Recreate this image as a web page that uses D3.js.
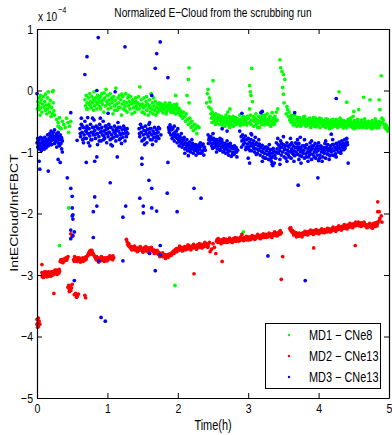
<!DOCTYPE html>
<html><head><meta charset="utf-8">
<script src="https://cdn.jsdelivr.net/npm/d3@7"></script>
<style>body{margin:0;background:#fff}svg{display:block}text{font-family:"Liberation Sans",Arial,Helvetica,sans-serif;fill:#000}</style>
</head><body><svg id="c" width="392" height="435"></svg>
<script>
// Time in hours, values in units of 1e-4
const timeTicks = [0, 1, 2, 3, 4, 5];
const valueTicks = [1, 0, -1, -2, -3, -4, -5];
const seriesNames = ["MD1 \u2212 CNe8", "MD2 \u2212 CNe13", "MD3 \u2212 CNe13"];
const seriesColors = ["#00ff00", "#ff0000", "#0000ff"];

const md1 = [
[0.01,-0.18],[0.02,-0.25],[0.03,-0.12],[0.03,-0.31],[0.04,-0.2],[0.05,-0.08],[0.05,-0.28],[0.06,-0.15],[0.07,-0.35],[0.08,-0.22],[0.09,-0.1],[0.1,-0.27],[0.11,-0.18],[0.12,-0.32],[0.13,-0.24],[0.14,-0.38],[0.15,-0.12],[0.15,-0.3],[0.16,-0.02],[0.17,-0.22],[0.18,-0.35],[0.19,-0.16],[0.2,-0.42],[0.21,-0.28],[0.22,-0.38],[0.23,-0.2],[0.24,-0.33],[0.25,-0.4],[0.005,-0.3],[0.045,-0.4],[0.12,-0.06],[0.18,-0.26],[0.22,-0.02],[0.23,0.0],
[0.28,-0.47],[0.3,-0.52],[0.3,-0.58],[0.32,-0.44],[0.34,-0.62],[0.36,-0.5],[0.38,-0.55],[0.4,-0.6],[0.42,-0.45],[0.44,-0.52],[0.45,-0.68],[0.48,-0.5],[0.32,-0.6],[0.46,-0.58],[0.32,-2.52],[0.45,-1.91],
[0.68,-0.15],[0.69,-0.25],[0.7,-0.08],[0.71,-0.2],[0.72,-0.3],[0.73,-0.12],[0.74,-0.22],[0.75,-0.05],[0.76,-0.18],[0.77,-0.28],[0.78,-0.1],[0.79,-0.2],[0.8,-0.15],[0.81,-0.02],[0.82,-0.25],[0.83,-0.12],[0.84,-0.18],[0.85,-0.3],[0.86,-0.08],[0.87,-0.2],[0.88,-0.14],[0.89,-0.26],[0.9,-0.1],[0.91,-0.18],[0.92,-0.05],[0.93,-0.22],[0.94,-0.15],[0.95,-0.35],[0.96,-0.12],[0.97,-0.25],[0.98,0.02],[0.99,-0.18],[1.0,-0.08],[1.01,-0.3],[1.02,-0.15],[1.03,-0.22],[1.04,-0.05],[1.05,-0.28],[1.06,-0.12],[1.07,-0.2],[1.08,-0.38],[1.09,-0.1],[1.1,-0.25],[1.11,-0.16],[1.12,0.04],[1.13,-0.22],[1.14,-0.32],[1.15,-0.12],[1.16,-0.2],[1.17,-0.08],[1.18,-0.28],[1.19,-0.15],[1.2,-0.4],[1.21,-0.22],[1.22,-0.1],[1.23,-0.3],[1.24,-0.18],[1.25,-0.25],[1.26,-0.05],[1.27,-0.2],[1.28,-0.35],[1.29,-0.12],[1.3,-0.25],[1.31,-0.18],[1.32,-0.3],[1.33,-0.1],[1.34,-0.22],[1.35,-0.38],[1.36,-0.15],[1.37,-0.28],[1.38,-0.2],[1.39,-0.35],[1.4,-0.12],[1.41,-0.25],[1.42,-0.3],
[0.705,-0.3],[0.755,-0.24],[0.805,-0.32],[0.855,-0.22],[0.905,-0.3],[0.955,-0.04],[1.005,-0.22],[1.055,-0.15],[1.105,-0.32],[1.155,-0.28],[1.205,-0.06],[1.255,-0.32],[1.305,-0.08],[1.355,-0.2],[1.405,-0.18],[1.455,-0.22],[1.505,-0.35],[1.555,-0.1],[1.605,-0.25],[1.655,-0.12],[1.705,-0.35],[1.785,-0.3],[1.835,-0.38],[1.885,-0.2],[1.935,-0.36],[1.985,-0.22],[2.035,-0.34],
[1.43,-0.2],[1.44,-0.1],[1.45,-0.3],[1.46,0.06],[1.47,-0.25],[1.48,-0.15],[1.49,-0.35],[1.5,-0.22],[1.51,-0.28],[1.52,-0.12],[1.53,-0.38],[1.54,-0.25],[1.55,-0.18],[1.56,-0.32],[1.57,-0.22],[1.58,-0.4],[1.59,-0.28],[1.6,-0.15],[1.61,-0.35],[1.62,-0.05],[1.63,-0.3],[1.64,-0.2],[1.65,-0.38],[1.66,-0.25],[1.67,-0.32],[1.68,-0.18],[1.69,-0.4],[1.7,-0.28],[1.71,-0.22],[1.72,-0.35],[1.73,-0.3],[1.74,-0.2],
[1.75,-0.25],[1.76,-0.32],[1.77,-0.22],[1.78,-0.28],[1.79,-0.36],[1.8,-0.24],[1.81,-0.3],[1.82,-0.2],[1.83,-0.27],[1.84,-0.34],[1.85,-0.25],[1.86,-0.29],[1.87,-0.22],[1.88,-0.31],[1.89,-0.26],[1.9,-0.35],[1.91,-0.24],[1.92,-0.3],[1.93,-0.27],[1.94,-0.33],[1.95,-0.23],[1.96,-0.29],[1.97,-0.38],[1.98,-0.26],[1.99,-0.32],[2.0,-0.28],[2.01,-0.36],[2.02,-0.3],[2.03,-0.4],[2.04,-0.33],[2.05,-0.42],[2.06,-0.37],[2.07,-0.45],[2.08,-0.35],[1.97,-0.08],
[2.16,0.37],[2.15,0.18],[2.13,-0.08],[2.16,-0.2],
[2.1,-0.42],[2.11,-0.5],[2.12,-0.38],[2.14,-0.47],[2.15,-0.55],[2.17,-0.45],[2.18,-0.52],[2.19,-0.6],[2.2,-0.5],[2.21,-0.58],[2.22,-0.65],[2.24,-0.55],[2.25,-0.62],[2.27,-0.7],[2.28,-0.58],[2.3,-0.6],
[2.41,-0.2],[2.42,-0.05],[2.43,0.02],[2.44,-0.27],[2.45,-0.12],[2.46,-0.18],[2.5,0.16],[2.47,-0.3],
[2.47,-0.38],[2.48,-0.45],[2.49,-0.35],[2.5,-0.42],[2.51,-0.5],[2.52,-0.4],[2.53,-0.46],[2.54,-0.38],[2.55,-0.52],[2.56,-0.44],[2.57,-0.48],[2.58,-0.4],[2.59,-0.55],[2.6,-0.45],[2.61,-0.5],[2.62,-0.42],[2.63,-0.56],[2.64,-0.47],[2.65,-0.52],[2.66,-0.44],[2.67,-0.58],[2.68,-0.48],[2.69,-0.53],[2.7,-0.45],[2.71,-0.5],[2.72,-0.56],[2.73,-0.42],[2.74,-0.52],[2.75,-0.47],[2.76,-0.55],[2.77,-0.45],[2.78,-0.5],[2.79,-0.58],[2.8,-0.48],[2.81,-0.52],[2.82,-0.44],[2.83,-0.55],[2.84,-0.5],[2.85,-0.46],[2.86,-0.53],[2.87,-0.48],[2.88,-0.4],[2.89,-0.52],[2.9,-0.46],[2.91,-0.55],[2.92,-0.49],[2.93,-0.42],[2.94,-0.5],[2.95,-0.45],[2.96,-0.52],[2.97,-0.48],[2.98,-0.56],[2.74,-0.3],[2.71,-0.35],
[2.485,-0.52],[2.535,-0.55],[2.585,-0.48],[2.635,-0.5],[2.685,-0.4],[2.735,-0.6],[2.785,-0.42],[2.835,-0.48],[2.885,-0.57],[2.935,-0.55],[2.985,-0.42],[3.035,-0.5],[3.085,-0.46],[3.135,-0.6],[3.185,-0.5],[3.235,-0.4],[3.285,-0.51],[3.335,-0.55],[3.385,-0.47],
[3.05,0.36],[3.02,0.08],[3.03,-0.02],[3.04,-0.08],[3.06,-0.18],[3.02,-0.3],
[3.0,-0.45],[3.01,-0.52],[3.03,-0.4],[3.04,-0.55],[3.05,-0.48],[3.07,-0.42],[3.08,-0.58],[3.09,-0.5],[3.1,-0.45],[3.11,-0.38],[3.12,-0.55],[3.13,-0.48],[3.14,-0.52],[3.15,-0.42],[3.16,-0.6],[3.17,-0.5],[3.18,-0.45],[3.19,-0.55],[3.2,-0.4],[3.21,-0.5],[3.22,-0.46],[3.23,-0.56],[3.24,-0.43],[3.25,-0.52],[3.26,-0.48],[3.27,-0.38],[3.28,-0.55],[3.29,-0.46],[3.3,-0.5],[3.31,-0.42],[3.32,-0.58],[3.33,-0.48],[3.34,-0.36],[3.35,-0.52],[3.36,-0.45],[3.37,-0.55],[3.38,-0.42],[3.39,-0.5],[3.4,-0.35],[3.41,-0.48],[3.42,-0.3],
[3.45,0.5],[3.46,0.37],[3.48,0.31],[3.5,0.26],[3.52,0.18],[3.49,0.05],[3.5,-0.06],[3.51,-0.2],[3.55,-0.26],[3.56,-0.31],[3.54,-0.38],[3.58,-0.35],[3.57,-0.42],[3.59,-0.48],
[3.6,-0.45],[3.61,-0.52],[3.62,-0.42],[3.63,-0.5],[3.64,-0.56],[3.65,-0.47],[3.66,-0.4],[3.67,-0.53],[3.68,-0.48],[3.69,-0.58],[3.7,-0.45],[3.71,-0.5],[3.72,-0.55],[3.73,-0.44],[3.74,-0.52],[3.75,-0.48],[3.76,-0.56],[3.77,-0.5],[3.78,-0.46],[3.79,-0.54],[3.8,-0.42],[3.81,-0.5],[3.82,-0.58],[3.83,-0.47],[3.84,-0.53],[3.85,-0.49],[3.86,-0.56],[3.87,-0.45],[3.88,-0.52],[3.89,-0.6],[3.9,-0.5],[3.91,-0.55],[3.92,-0.47],[3.93,-0.53],[3.94,-0.58],[3.95,-0.5],[3.96,-0.45],[3.97,-0.55],[3.98,-0.51],[3.99,-0.57],[4.0,-0.48],[4.01,-0.53],[4.02,-0.6],[4.03,-0.5],[4.04,-0.46],[4.05,-0.55],[4.06,-0.52],[4.07,-0.58],[4.08,-0.49],[4.09,-0.54],[4.1,-0.6],[4.11,-0.5],[4.12,-0.56],[4.13,-0.47],[4.14,-0.53],[4.15,-0.58],[4.16,-0.51],[4.17,-0.55],[4.18,-0.48],[4.19,-0.6],[4.2,-0.52],[4.21,-0.56],[4.22,-0.5],[4.23,-0.58],[4.24,-0.53],[4.25,-0.47],[4.26,-0.55],[4.27,-0.6],[4.28,-0.51],[4.29,-0.56],[4.3,-0.5],[4.31,-0.58],[4.32,-0.53],[4.33,-0.48],[4.34,-0.56],[4.35,-0.61],[4.36,-0.52],[4.37,-0.57],[4.38,-0.5],[4.39,-0.55],[4.4,-0.6],[4.41,-0.52],[4.42,-0.47],[4.43,-0.56],[4.44,-0.53],[4.45,-0.58],[4.46,-0.5],[4.47,-0.55],[4.48,-0.6],[4.49,-0.52],[4.5,-0.57],[4.51,-0.49],[4.52,-0.55],[4.53,-0.61],[4.54,-0.53],[4.55,-0.58],[4.56,-0.5],[4.57,-0.55],[4.58,-0.6],[4.59,-0.52],[4.6,-0.57],[4.61,-0.48],[4.62,-0.55],[4.63,-0.6],[4.64,-0.52],[4.65,-0.57],[4.66,-0.5],[4.67,-0.55],[4.68,-0.61],[4.69,-0.53],[4.7,-0.58],[4.71,-0.5],[4.72,-0.55],[4.73,-0.6],[4.74,-0.52],[4.75,-0.57],[4.76,-0.49],[4.77,-0.55],[4.78,-0.6],[4.79,-0.53],[4.8,-0.58],[4.81,-0.5],[4.82,-0.56],[4.83,-0.61],[4.84,-0.53],[4.85,-0.57],[4.86,-0.5],[4.87,-0.56],[4.88,-0.52],[4.9,-0.45],[4.91,-0.52],[4.92,-0.48],[4.93,-0.56],[4.94,-0.6],[4.95,-0.55],[4.96,-0.63],[4.97,-0.58],[4.98,-0.66],[4.99,-0.62],
[3.615,-0.4],[3.655,-0.55],[3.695,-0.44],[3.745,-0.58],[3.785,-0.43],[3.835,-0.55],[3.875,-0.5],[3.925,-0.44],[3.965,-0.59],[4.015,-0.45],[4.055,-0.5],[4.105,-0.46],[4.155,-0.62],[4.205,-0.47],[4.255,-0.52],[4.305,-0.45],[4.355,-0.49],[4.405,-0.55],[4.455,-0.45],[4.505,-0.62],[4.555,-0.47],[4.605,-0.52],[4.655,-0.46],[4.705,-0.53],[4.755,-0.62],[4.805,-0.46],[4.855,-0.6],
[4.29,-0.02],[4.4,-0.19],[4.64,-0.11],[4.73,-0.15],[4.57,-0.31],[4.5,-0.34],[4.49,-0.42],[4.89,0.24],[4.86,-0.15],[4.87,-0.31],[1.96,-3.17],[2.93,-2.3]
];

const md2 = [
[0.0,-3.72],[0.01,-3.78],[0.02,-3.83],[0.03,-3.75],[0.01,-3.85],[0.04,-3.8],[0.0,-3.8],[0.02,-3.7],[0.07,-2.83],[0.24,-3.3],
[0.07,-2.96],[0.08,-3.0],[0.09,-2.97],[0.1,-3.02],[0.11,-2.98],[0.12,-3.01],[0.13,-2.95],[0.14,-3.03],[0.15,-2.99],[0.16,-3.02],[0.17,-2.97],[0.18,-3.0],[0.19,-2.96],[0.2,-3.01],[0.21,-2.98],[0.22,-2.95],[0.23,-2.99],[0.24,-2.94],[0.25,-2.97],[0.26,-2.93],[0.27,-2.96],[0.28,-2.92],[0.29,-2.95],[0.3,-2.93],[0.31,-2.97],[0.32,-2.94],[0.09,-3.04],[0.14,-2.98],[0.2,-2.95],[0.26,-2.98],
[0.075,-3.03],[0.105,-2.95],[0.135,-3.0],[0.165,-2.95],[0.195,-3.02],[0.225,-3.0],[0.255,-2.92],[0.285,-2.99],[0.315,-2.91],
[0.33,-2.78],[0.34,-2.75],[0.35,-2.79],[0.36,-2.76],[0.37,-2.8],[0.38,-2.74],[0.39,-2.77],[0.4,-2.75],[0.41,-2.72],[0.42,-2.76],[0.43,-2.73],[0.44,-2.7],
[0.44,-3.2],[0.45,-3.17],[0.46,-3.23],[0.47,-3.19],[0.48,-3.25],[0.49,-3.21],[0.5,-3.15],[0.46,-3.27],[0.48,-2.33],[0.5,-2.37],
[0.53,-3.32],[0.55,-3.3],[0.57,-3.35],[0.59,-3.31],[0.56,-3.36],[0.68,-3.33],[0.69,-3.37],
[0.52,-2.75],[0.53,-2.78],[0.54,-2.73],[0.55,-2.77],[0.56,-2.74],[0.57,-2.78],[0.58,-2.75],[0.59,-2.72],[0.6,-2.76],[0.61,-2.73],[0.62,-2.77],[0.63,-2.74],[0.64,-2.76],[0.65,-2.72],[0.66,-2.75],[0.67,-2.73],[0.68,-2.76],[0.69,-2.71],[0.7,-2.74],[0.71,-2.7],
[0.72,-2.68],[0.73,-2.65],[0.74,-2.63],[0.75,-2.61],[0.76,-2.6],[0.77,-2.62],[0.78,-2.6],[0.79,-2.64],[0.8,-2.66],[0.81,-2.68],[0.82,-2.7],[0.74,-2.67],[0.77,-2.66],
[0.83,-2.72],[0.84,-2.75],[0.85,-2.73],[0.86,-2.76],[0.87,-2.72],[0.88,-2.75],[0.89,-2.73],[0.9,-2.77],[0.91,-2.74],[0.92,-2.72],[0.93,-2.76],[0.94,-2.73],[0.95,-2.75],[0.96,-2.72],[0.97,-2.76],[0.98,-2.74],[0.99,-2.72],[1.0,-2.75],[1.01,-2.73],[1.02,-2.71],[1.03,-2.74],[1.04,-2.72],[1.05,-2.7],[1.06,-2.73],[1.07,-2.71],[1.08,-2.69],[1.09,-2.72],
[0.535,-2.7],[0.575,-2.72],[0.615,-2.79],[0.655,-2.78],[0.845,-2.7],[0.875,-2.79],[0.915,-2.7],[0.955,-2.78],[0.995,-2.77],[1.035,-2.69],[1.075,-2.75],
[1.27,-2.42],[1.28,-2.46],[1.29,-2.5],[1.3,-2.52],[1.31,-2.54],[1.32,-2.53],[1.33,-2.56],[1.34,-2.54],[1.35,-2.57],[1.36,-2.55],[1.37,-2.58],[1.38,-2.56],[1.39,-2.59],[1.4,-2.57],[1.41,-2.6],[1.42,-2.56],[1.43,-2.59],[1.44,-2.57],[1.45,-2.6],[1.46,-2.58],[1.47,-2.55],[1.48,-2.59],[1.49,-2.57],[1.5,-2.6],[1.51,-2.58],[1.52,-2.56],[1.53,-2.59],[1.54,-2.57],[1.55,-2.61],[1.56,-2.58],[1.57,-2.56],[1.58,-2.6],[1.59,-2.57],[1.6,-2.59],[1.61,-2.56],[1.62,-2.6],[1.63,-2.58],[1.64,-2.61],[1.65,-2.59],[1.66,-2.62],[1.67,-2.6],[1.68,-2.63],[1.69,-2.61],[1.7,-2.64],[1.71,-2.62],[1.72,-2.66],[1.73,-2.63],[1.74,-2.67],[1.75,-2.65],[1.76,-2.68],[1.77,-2.66],[1.78,-2.7],[1.79,-2.67],[1.8,-2.69],[1.81,-2.7],[1.82,-2.67],[1.83,-2.71],[1.84,-2.68],[1.85,-2.7],[1.86,-2.67],[1.87,-2.69],[1.88,-2.66],[1.89,-2.68],[1.9,-2.65],[1.91,-2.67],[1.92,-2.63],[1.93,-2.65],[1.94,-2.61],[1.95,-2.63],[1.96,-2.59],[1.97,-2.61],[1.98,-2.57],[1.99,-2.6],[2.0,-2.57],[2.01,-2.6],[2.02,-2.56],[2.03,-2.59],[2.04,-2.55],[2.05,-2.58],[2.06,-2.56],[2.07,-2.59],[2.08,-2.55],[2.09,-2.58],[2.1,-2.54],[2.11,-2.57],[2.12,-2.55],[2.13,-2.58],[2.14,-2.54],[2.15,-2.57],[2.16,-2.53],[2.17,-2.56],[2.18,-2.54],[2.19,-2.57],[2.2,-2.53],[2.21,-2.56],[2.22,-2.52],[2.23,-2.55],[2.24,-2.53],[2.25,-2.56],[2.26,-2.52],[2.27,-2.55],[2.28,-2.51],[2.29,-2.54],[2.3,-2.52],[2.31,-2.55],[2.32,-2.51],[2.33,-2.54],[2.34,-2.5],[2.35,-2.53],[2.36,-2.51],[2.37,-2.54],[2.38,-2.5],[2.39,-2.53],[2.4,-2.49],[2.41,-2.52],[2.42,-2.5],[2.43,-2.53],[2.44,-2.49],[2.45,-2.47],
[1.305,-2.49],[1.345,-2.59],[1.385,-2.53],[1.425,-2.62],[1.465,-2.54],[1.505,-2.63],[1.545,-2.54],[1.585,-2.63],[1.625,-2.55],[1.665,-2.65],[1.705,-2.6],[1.745,-2.7],[1.785,-2.64],[1.825,-2.73],[1.865,-2.71],[1.905,-2.68],[1.945,-2.65],[1.985,-2.62],[2.025,-2.53],[2.065,-2.61],[2.105,-2.59],[2.145,-2.51],[2.185,-2.59],[2.225,-2.5],[2.265,-2.58],[2.305,-2.49],[2.345,-2.56],[2.385,-2.47],[2.425,-2.55],
[2.46,-2.62],[2.5,-2.49],[2.54,-2.65],[2.52,-2.55],[2.63,-2.78],[2.48,-2.58],[2.23,-2.98],
[2.55,-2.45],[2.56,-2.42],[2.57,-2.47],[2.58,-2.43],[2.59,-2.46],[2.6,-2.44],[2.61,-2.47],[2.62,-2.43],[2.63,-2.46],[2.64,-2.44],[2.65,-2.47],[2.66,-2.43],[2.67,-2.46],[2.68,-2.44],[2.69,-2.42],[2.7,-2.45],[2.71,-2.43],[2.72,-2.46],[2.73,-2.42],[2.74,-2.45],[2.75,-2.43],[2.76,-2.46],[2.77,-2.42],[2.78,-2.44],[2.79,-2.41],[2.8,-2.44],[2.81,-2.42],[2.82,-2.45],[2.83,-2.41],[2.84,-2.43],[2.85,-2.4],[2.86,-2.43],[2.87,-2.41],[2.88,-2.44],[2.89,-2.4],[2.9,-2.42],[2.92,-2.43],[2.93,-2.4],[2.94,-2.42],[2.95,-2.39],[2.96,-2.42],[2.97,-2.4],[2.98,-2.43],[2.99,-2.39],[3.0,-2.41],[3.01,-2.38],[3.02,-2.41],[3.03,-2.39],[3.04,-2.42],[3.05,-2.38],[3.06,-2.4],[3.07,-2.37],[3.08,-2.4],[3.09,-2.38],[3.1,-2.41],[3.11,-2.37],[3.12,-2.39],[3.13,-2.36],[3.14,-2.39],[3.15,-2.37],[3.16,-2.4],[3.17,-2.36],[3.18,-2.38],[3.19,-2.35],[3.2,-2.38],[3.21,-2.36],[3.22,-2.39],[3.23,-2.35],[3.24,-2.37],[3.25,-2.34],[3.26,-2.37],[3.27,-2.35],[3.28,-2.38],[3.29,-2.34],[3.3,-2.36],[3.31,-2.33],[3.32,-2.36],[3.33,-2.34],[3.34,-2.37],[3.35,-2.33],[3.36,-2.35],[3.37,-2.32],[3.38,-2.35],[3.39,-2.33],[3.4,-2.36],[3.41,-2.32],[3.42,-2.34],[3.43,-2.31],[3.44,-2.34],[3.45,-2.3],[3.46,-2.33],[3.47,-2.31],
[2.575,-2.41],[2.615,-2.49],[2.655,-2.41],[2.695,-2.47],[2.735,-2.4],[2.775,-2.47],[2.815,-2.39],[2.855,-2.45],[2.895,-2.38],[2.935,-2.44],[2.975,-2.37],[3.015,-2.43],[3.055,-2.36],[3.095,-2.42],[3.135,-2.34],[3.175,-2.41],[3.215,-2.33],[3.255,-2.39],[3.295,-2.32],[3.335,-2.39],[3.375,-2.3],[3.415,-2.36],[3.455,-2.28],
[2.91,-2.34],[3.49,-2.7],[3.47,-3.07],[3.93,-2.56],[4.52,-2.52],
[3.59,-2.24],[3.6,-2.27],[3.61,-2.26],[3.62,-2.3],[3.63,-2.28],[3.64,-2.32],[3.65,-2.3],[3.66,-2.33],[3.67,-2.31],[3.68,-2.35],[3.69,-2.32],[3.7,-2.36],[3.71,-2.33],[3.72,-2.37],[3.73,-2.34],[3.74,-2.36],[3.75,-2.33],[3.76,-2.35],[3.77,-2.32],[3.78,-2.34],[3.79,-2.31],[3.8,-2.34],[3.81,-2.31],[3.82,-2.33],[3.83,-2.3],[3.84,-2.33],[3.85,-2.3],[3.86,-2.32],[3.87,-2.29],[3.88,-2.32],[3.89,-2.3],[3.9,-2.32],[3.91,-2.29],[3.92,-2.31],[3.93,-2.28],[3.94,-2.31],[3.95,-2.29],[3.96,-2.32],[3.97,-2.28],[3.98,-2.3],[3.99,-2.28],[4.0,-2.31],[4.01,-2.28],[4.02,-2.3],[4.03,-2.27],[4.04,-2.3],[4.05,-2.28],[4.06,-2.31],[4.07,-2.27],[4.08,-2.29],[4.09,-2.26],[4.1,-2.29],[4.11,-2.27],[4.12,-2.3],[4.13,-2.26],[4.14,-2.28],[4.15,-2.25],[4.16,-2.28],[4.17,-2.26],[4.18,-2.29],[4.19,-2.25],[4.2,-2.27],[4.21,-2.24],[4.22,-2.27],[4.23,-2.25],[4.24,-2.27],[4.25,-2.23],[4.26,-2.26],[4.27,-2.24],[4.28,-2.26],[4.29,-2.22],[4.3,-2.25],[4.31,-2.23],[4.32,-2.25],[4.33,-2.21],[4.34,-2.24],[4.35,-2.22],[4.36,-2.24],[4.37,-2.2],[4.38,-2.23],[4.39,-2.21],[4.4,-2.23],[4.41,-2.19],[4.42,-2.22],[4.43,-2.2],[4.44,-2.22],[4.45,-2.18],[4.46,-2.21],[4.47,-2.19],[4.48,-2.21],[4.49,-2.17],[4.5,-2.2],[4.51,-2.18],[4.52,-2.2],[4.53,-2.16],[4.54,-2.19],
[3.605,-2.23],[3.645,-2.35],[3.685,-2.38],[3.725,-2.32],[3.765,-2.38],[3.805,-2.29],[3.845,-2.35],[3.885,-2.27],[3.925,-2.34],[3.965,-2.26],[4.005,-2.33],[4.045,-2.25],[4.085,-2.31],[4.125,-2.24],[4.165,-2.3],[4.205,-2.22],[4.245,-2.29],[4.285,-2.2],[4.325,-2.27],[4.365,-2.18],[4.405,-2.25],[4.445,-2.16],[4.485,-2.23],[4.525,-2.14],
[4.55,-2.16],[4.56,-2.19],[4.57,-2.17],[4.58,-2.2],[4.59,-2.16],[4.6,-2.18],[4.61,-2.15],[4.62,-2.18],[4.63,-2.16],[4.64,-2.19],[4.65,-2.17],[4.66,-2.2],[4.67,-2.18],[4.68,-2.21],[4.69,-2.19],[4.7,-2.22],[4.71,-2.2],[4.72,-2.18],[4.73,-2.21],[4.74,-2.19],[4.75,-2.22],[4.76,-2.2],[4.77,-2.17],[4.78,-2.2],[4.79,-2.18],[4.8,-2.15],[4.81,-2.19],[4.82,-2.17],[4.83,-2.2],[4.84,-2.16],
[4.565,-2.14],[4.605,-2.21],[4.645,-2.14],[4.685,-2.23],[4.725,-2.16],[4.765,-2.24],[4.805,-2.21],[4.835,-2.14],
[4.84,-1.81],[4.84,-1.97],[4.86,-1.97],[4.89,-2.04],[4.86,-2.12],[4.9,-2.14],[4.87,-2.08]
];

const md3 = [
[0.0,-0.85],[0.01,-0.92],[0.01,-0.78],[0.02,-0.88],[0.03,-0.95],[0.03,-0.8],[0.04,-0.86],[0.05,-0.9],[0.05,-0.76],[0.06,-0.98],[0.07,-0.84],[0.07,-0.92],[0.08,-0.8],[0.09,-0.88],[0.09,-0.95],[0.1,-0.83],[0.11,-0.9],[0.11,-0.76],[0.12,-0.86],[0.13,-0.93],[0.13,-0.8],[0.14,-0.88],[0.15,-0.84],[0.15,-0.72],[0.16,-0.9],[0.17,-0.78],[0.18,-0.7],[0.18,-0.85],[0.19,-0.75],[0.2,-0.82],[0.2,-0.66],[0.21,-0.88],[0.22,-0.72],[0.23,-0.8],[0.23,-0.68],[0.24,-0.76],[0.25,-0.86],[0.25,-0.64],[0.26,-0.74],[0.27,-0.82],[0.28,-0.7],[0.28,-0.92],[0.29,-0.78],[0.3,-0.85],[0.3,-0.68],[0.31,-0.75],[0.32,-0.9],[0.32,-0.8],[0.33,-0.72],[0.34,-0.86],[0.35,-0.78],[0.35,-0.95],[0.36,-0.82],
[0.015,-0.82],[0.045,-0.93],[0.075,-0.78],[0.105,-0.95],[0.135,-0.84],[0.165,-0.8],[0.195,-0.88],[0.225,-0.78],[0.255,-0.8],[0.285,-0.74],[0.315,-0.88],[0.345,-0.76],
[0.0,-0.05],[0.04,-1.28],[0.16,-1.31],[0.03,-1.15],[0.3,-1.12],[0.33,-1.17],[0.36,-1.0],[0.43,-1.42],[0.48,-1.59],[0.5,-1.72],[0.5,-1.91],[0.51,-2.02],[0.51,-2.09],[0.5,-2.04],[0.48,-0.36],[0.57,-0.81],[0.48,-2.27],[0.53,-2.3],[0.51,-2.36],[0.48,-2.41],[0.53,-3.09],[0.8,-2.39],[0.88,-2.77],[0.91,-3.69],[0.97,-3.75],
[0.61,-0.62],[0.62,-0.75],[0.63,-0.55],[0.64,-0.68],[0.65,-0.8],[0.66,-0.6],[0.67,-0.72],[0.68,-0.5],[0.69,-0.66],[0.7,-0.78],[0.71,-0.58],[0.72,-0.7],[0.73,-0.85],[0.74,-0.62],[0.75,-0.74],[0.76,-0.55],[0.77,-0.68],[0.78,-0.8],[0.79,-0.6],[0.8,-0.72],[0.81,-0.48],[0.82,-0.65],[0.83,-0.78],[0.84,-0.58],[0.85,-0.7],[0.86,-0.88],[0.87,-0.62],[0.88,-0.75],[0.89,-0.55],[0.9,-0.68],[0.91,-0.82],[0.92,-0.6],[0.93,-0.72],[0.94,-0.5],[0.95,-0.66],[0.96,-0.78],[0.97,-0.58],[0.98,-0.7],[0.99,-0.85],[1.0,-0.62],[1.01,-0.75],[1.02,-0.55],[1.03,-0.68],[1.04,-0.8],[1.05,-0.6],[1.06,-0.72],[1.07,-0.9],[1.08,-0.64],[1.09,-0.76],[1.1,-0.58],[1.11,-0.7],[1.12,-0.82],[1.13,-0.62],[1.14,-0.74],[1.15,-0.52],[1.16,-0.66],[1.17,-0.8],[1.18,-0.6],[1.19,-0.72],[1.2,-0.86],[1.21,-0.64],[1.22,-0.76],[1.23,-0.58],[1.24,-0.7],[1.25,-0.82],[1.26,-0.66],[1.27,-0.75],[1.28,-0.62],[1.29,-0.7],[0.66,-0.85],[0.75,-0.9],[0.9,-0.45],[1.05,-0.88],[0.79,-0.45],[0.7,-0.66],[0.8,-0.6],[0.86,-0.7],[0.95,-0.74],[1.02,-0.68],[1.12,-0.66],[1.18,-0.7],[0.88,-0.62],[0.98,-0.58],
[0.615,-0.7],[0.645,-0.58],[0.675,-0.78],[0.705,-0.62],[0.735,-0.7],[0.765,-0.8],[0.795,-0.68],[0.825,-0.72],[0.855,-0.6],[0.885,-0.82],[0.915,-0.66],[0.945,-0.8],[0.975,-0.64],[1.005,-0.7],[1.035,-0.6],[1.065,-0.78],[1.095,-0.68],[1.125,-0.74],[1.155,-0.6],[1.185,-0.78],[1.215,-0.7],[1.245,-0.62],[1.275,-0.68],
[0.87,0.86],[0.71,0.55],[0.68,0.26],[0.85,0.0],[1.11,-0.02],[1.25,0.71],[1.01,-0.37],[0.72,-0.44],[0.63,-0.45],[0.7,-1.17],[0.85,-1.08],[0.82,-1.15],[0.8,-1.97],[0.82,-1.73],[0.85,-1.88],[1.04,-1.5],[1.14,-1.08],[1.22,-2.06],[1.26,-1.88],[1.22,-2.77],
[1.45,-0.62],[1.46,-0.75],[1.47,-0.55],[1.48,-0.68],[1.49,-0.82],[1.5,-0.6],[1.51,-0.72],[1.52,-0.65],[1.53,-0.78],[1.54,-0.58],[1.55,-0.7],[1.56,-0.85],[1.57,-0.63],[1.58,-0.75],[1.59,-0.55],[1.6,-0.68],[1.61,-0.8],[1.62,-0.62],[1.63,-0.72],[1.64,-0.88],[1.65,-0.66],[1.66,-0.76],[1.67,-0.6],[1.68,-0.7],[1.69,-0.82],[1.7,-0.64],[1.71,-0.74],[1.72,-0.68],[1.73,-0.78],[1.74,-0.62],[1.76,-0.72],[1.53,-0.88],[1.6,-0.52],
[1.455,-0.7],[1.485,-0.6],[1.515,-0.8],[1.545,-0.66],[1.575,-0.72],[1.605,-0.62],[1.635,-0.8],[1.665,-0.7],[1.695,-0.76],[1.725,-0.6],
[1.75,0.79],[1.7,0.6],[1.68,0.36],[1.86,0.21],[1.63,-0.08],[1.49,-1.1],[1.49,-1.2],[1.46,-1.75],[1.51,-1.88],[1.51,-1.99],[1.59,-1.46],[1.63,-1.59],[1.63,-1.91],[1.7,-1.96],[1.86,-1.17],[1.85,-1.67],[1.99,-1.97],[2.23,-1.59],[2.33,-1.75],[1.75,-2.52],[1.75,-2.67],[1.6,-2.65],[1.68,-2.93],
[1.87,-0.6],[1.88,-0.68],[1.89,-0.56],[1.9,-0.72],[1.91,-0.64],[1.92,-0.78],[1.93,-0.62],[1.94,-0.7],[1.95,-0.82],[1.96,-0.68],[1.97,-0.76],[1.98,-0.66],[1.99,-0.85],[2.0,-0.72],[2.01,-0.8],[2.02,-0.9],[2.03,-0.75],[2.04,-0.84],[2.05,-0.78],[2.06,-0.92],[2.07,-0.82],[2.08,-0.88],[2.09,-0.76],[2.1,-0.95],[2.11,-0.85],[2.12,-0.9],[2.13,-0.8],[2.14,-0.98],[2.15,-0.88],[2.16,-0.93],[2.17,-0.84],[2.18,-1.0],[2.19,-0.9],[2.2,-0.95],[2.21,-0.86],[2.22,-1.02],[2.23,-0.92],[2.24,-0.97],[2.25,-0.88],[2.26,-1.05],[2.27,-0.94],[2.28,-0.99],[2.29,-0.9],[1.95,-0.58],[2.0,-0.62],[2.05,-0.7],[2.1,-1.02],[2.15,-1.06],[2.2,-0.8],
[1.875,-0.64],[1.905,-0.6],[1.935,-0.74],[1.965,-0.72],[1.995,-0.78],[2.025,-0.82],[2.055,-0.86],[2.085,-0.8],[2.115,-0.94],[2.145,-0.86],[2.175,-0.96],[2.205,-0.9],[2.235,-0.98],[2.265,-0.92],[2.295,-1.02],[2.315,-0.92],[2.345,-1.0],[2.375,-0.94],
[2.3,-0.88],[2.31,-0.96],[2.32,-0.85],[2.33,-1.02],[2.34,-0.9],[2.35,-0.98],[2.36,-0.87],[2.37,-1.05],[2.38,-0.92],[2.39,-0.97],
[2.43,-0.72],[2.44,-0.8],[2.45,-0.76],[2.46,-0.85],[2.47,-0.75],[2.48,-0.9],[2.49,-0.8],[2.5,-0.86],[2.51,-0.78],[2.52,-0.92],[2.53,-0.83],[2.54,-0.88],[2.55,-0.8],[2.56,-0.95],[2.57,-0.85],[2.58,-0.9],[2.59,-0.82],[2.6,-0.97],[2.61,-0.87],[2.62,-0.92],[2.63,-0.84],[2.64,-1.0],[2.65,-0.89],[2.66,-0.94],[2.67,-0.86],[2.68,-1.02],[2.69,-0.9],[2.7,-0.96],[2.71,-0.88],[2.72,-1.05],[2.73,-0.92],[2.74,-0.98],[2.75,-0.9],[2.76,-1.07],[2.77,-0.94],[2.78,-1.0],[2.79,-0.91],[2.8,-1.04],[2.81,-0.95],[2.82,-1.0],[2.83,-0.93],[2.84,-1.08],[2.85,-0.97],[2.5,-0.7],[2.6,-0.78],[2.7,-0.82],[2.55,-1.0],
[2.435,-0.86],[2.465,-0.8],[2.495,-0.94],[2.525,-0.84],[2.565,-0.9],[2.595,-0.96],[2.625,-0.8],[2.655,-0.98],[2.685,-0.92],[2.715,-1.0],[2.745,-0.86],[2.775,-1.04],[2.805,-0.9],[2.835,-1.0],
[2.9,-0.75],[2.91,-0.82],[2.92,-0.72],[2.93,-0.88],[2.94,-0.78],[2.95,-0.85],[2.96,-0.74],[2.97,-0.92],[2.98,-0.8],[2.99,-0.87],[3.0,-0.78],[3.01,-0.95],[3.02,-0.84],[3.03,-0.9],[3.04,-0.8],[3.05,-0.98],[3.06,-0.86],[3.07,-0.92],[3.08,-0.82],[3.09,-1.0],[3.1,-0.88],[3.11,-0.95],[3.12,-0.85],[3.13,-1.02],[3.14,-0.9],[3.15,-0.97],[3.16,-0.87],[3.17,-1.05],[3.18,-0.93],[3.19,-0.99],[3.2,-0.89],[3.21,-1.08],[3.22,-0.95],[3.23,-1.02],[3.24,-0.92],[3.25,-1.1],[3.26,-0.98],[3.27,-1.04],[3.28,-0.94],[3.29,-1.12],[3.3,-1.0],[3.31,-1.06],[3.32,-0.96],[3.33,-1.15],[3.34,-1.02],[3.35,-1.08],[3.36,-0.98],[3.37,-1.18],[3.38,-1.05],[3.39,-1.1],[3.05,-0.72],[3.1,-0.76],[3.0,-1.1],[3.02,-1.18],[3.15,-0.8],[3.2,-1.15],[3.3,-0.88],[3.35,-1.22],
[2.905,-0.92],[2.935,-0.8],[2.965,-0.96],[2.995,-0.92],[3.025,-0.98],[3.055,-0.88],[3.085,-0.94],[3.115,-1.04],[3.145,-0.96],[3.175,-0.92],[3.205,-1.0],[3.235,-1.1],[3.265,-0.92],[3.295,-1.04],[3.325,-1.1],[3.355,-0.94],[3.385,-1.0],
[3.4,-0.85],[3.41,-0.95],[3.42,-0.78],[3.43,-1.02],[3.44,-0.9],[3.45,-0.98],[3.46,-0.82],[3.47,-1.05],[3.48,-0.92],[3.49,-1.0],[3.5,-0.88],[3.51,-1.08],[3.52,-0.95],[3.53,-0.9],[3.54,-1.02],[3.55,-0.85],[3.56,-0.97],[3.57,-1.05],[3.58,-0.92],[3.59,-1.0],[3.6,-0.88],[3.61,-1.1],[3.62,-0.95],[3.63,-1.02],[3.64,-0.9],[3.65,-0.98],[3.66,-1.06],[3.67,-0.93],[3.68,-1.0],[3.69,-0.87],[3.7,-1.04],[3.71,-0.96],[3.72,-1.12],[3.73,-0.92],[3.74,-1.0],[3.75,-0.95],[3.76,-1.07],[3.77,-0.9],[3.78,-1.02],[3.79,-0.97],[3.8,-1.1],[3.81,-0.93],[3.82,-1.03],[3.83,-0.88],[3.84,-1.0],[3.85,-0.95],[3.86,-1.08],[3.87,-0.92],[3.88,-1.02],[3.89,-0.97],[3.9,-1.12],[3.91,-0.94],[3.92,-1.04],[3.93,-0.9],[3.94,-1.0],[3.95,-0.96],[3.96,-1.1],[3.97,-0.93],[3.98,-1.05],[3.99,-0.98],[4.0,-1.14],[4.01,-0.95],[4.02,-1.05],[4.03,-0.9],[4.04,-1.0],[4.05,-0.96],[4.06,-1.08],[4.07,-0.93],[4.08,-1.02],[4.09,-0.97],[4.1,-1.1],[4.11,-0.92],[4.12,-1.03],[4.13,-0.88],[4.14,-0.98],[4.15,-0.94],[4.16,-1.06],[4.17,-0.9],[4.18,-1.0],[4.19,-0.95],[4.2,-1.05],[4.21,-0.88],[4.22,-0.98],[4.23,-0.92],[4.24,-1.03],[4.25,-0.86],[4.26,-0.96],[4.27,-0.9],[4.28,-1.0],[4.29,-0.84],[4.3,-0.94],[4.31,-0.88],[4.32,-0.98],[4.33,-0.82],[4.34,-0.92],[4.35,-0.86],[4.36,-0.96],[4.37,-0.8],[4.38,-0.9],[4.39,-0.85],[4.4,-0.78],[4.41,-0.88],[3.5,-0.75],[3.6,-0.78],[3.7,-0.8],[3.55,-1.15],[3.65,-1.15],[3.8,-0.8],[3.9,-0.82],[4.0,-0.85],[3.75,-1.18],[4.05,-1.15],[3.95,-0.86],[4.1,-0.82],[3.85,-1.15],[4.2,-0.8],[3.45,-1.12],[3.62,-0.85],[3.72,-0.86],[3.88,-0.85],[4.15,-1.12],[4.25,-1.08],
[3.405,-1.0],[3.425,-0.88],[3.455,-0.93],[3.475,-0.86],[3.515,-0.96],[3.535,-1.1],[3.565,-0.9],[3.585,-1.08],[3.615,-0.98],[3.645,-1.04],[3.675,-0.85],[3.705,-0.92],[3.735,-1.06],[3.765,-0.98],[3.795,-0.9],[3.825,-1.08],[3.855,-1.0],[3.875,-1.04],[3.905,-0.9],[3.935,-1.08],[3.965,-1.0],[3.985,-0.9],[4.015,-1.1],[4.045,-0.92],[4.075,-1.0],[4.105,-0.96],[4.135,-1.04],[4.165,-0.96],[4.195,-0.88],[4.225,-1.06],[4.255,-0.94],[4.285,-0.92],[4.315,-1.02],[4.345,-0.88],[4.375,-0.94],[4.405,-0.84],
[2.63,-0.62],[2.7,-0.66],[2.88,-0.66],[3.04,-0.7],[3.2,-0.34],[2.91,-0.37],[3.18,-0.36],[3.66,-0.36],[4.25,-0.13],[3.74,-0.76],[4.09,-0.86],[4.18,-0.71],[3.34,-1.2],[3.45,-1.2],[4.42,-1.18],[3.71,-1.54],[3.99,-1.42],[3.28,-2.69],[3.81,-3.09]
];

const allSeries = [md1, md2, md3];

const svg = d3.select("#c");
const L = 37, R = 389, T = 29, B = 398;
const SX = 0.78;
const x = d3.scaleLinear().domain([0, 5]).range([L, R]);
const y = d3.scaleLinear().domain([-5, 1]).range([B, T]);

svg.append("rect").attr("x", 0).attr("y", 0).attr("width", 392).attr("height", 435).attr("fill", "#fff");

// points
allSeries.forEach((data, i) => {
  svg.append("g").selectAll("circle").data(data).join("circle")
    .attr("cx", d => x(d[0])).attr("cy", d => y(d[1]))
    .attr("r", 1.85).attr("fill", seriesColors[i]);
});

// axes
const fmt = d => d3.format("")(d);
const gB = svg.append("g").attr("transform", `translate(0,${B})`)
  .call(d3.axisBottom(x).tickValues(timeTicks).tickSizeInner(-5).tickSizeOuter(0).tickPadding(5).tickFormat(fmt));
const gT = svg.append("g").attr("transform", `translate(0,${T})`)
  .call(d3.axisTop(x).tickValues(timeTicks).tickSizeInner(-5).tickSizeOuter(0).tickFormat(""));
const gL = svg.append("g").attr("transform", `translate(${L},0)`)
  .call(d3.axisLeft(y).tickValues(valueTicks).tickSizeInner(-5).tickSizeOuter(0).tickPadding(5).tickFormat(fmt));
const gR = svg.append("g").attr("transform", `translate(${R},0)`)
  .call(d3.axisRight(y).tickValues(valueTicks).tickSizeInner(-5).tickSizeOuter(0).tickFormat(""));
[gB, gT, gL, gR].forEach(g => {
  g.select(".domain").attr("stroke", "#000").attr("stroke-width", 1.2);
  g.selectAll(".tick line").attr("stroke", "#000");
  g.selectAll("text").attr("font-size", 13.5).attr("font-family", null).attr("fill", "#000");
});
gB.selectAll(".tick text").attr("transform", `scale(${SX},1)`);
gL.selectAll(".tick text").attr("transform", `scale(${SX},1)`);

function label(txt, tx, ty, size, anchor, rot) {
  return svg.append("text")
    .attr("transform", `translate(${tx},${ty}) scale(${SX},1)` + (rot ? ` rotate(${rot})` : ""))
    .attr("font-size", size).attr("text-anchor", anchor).text(txt);
}
label("Normalized E\u2212Cloud from the scrubbing run", 213, 17, 13, "middle");
label("Time(h)", 213, 430, 14, "middle");
label("IntECloud/IntFBCT", 18, 213, 14, "middle", -90);
label("x 10", 38, 21, 13, "start");
label("\u22124", 58, 13, 9.5, "start");

// legend
const lg = svg.append("g");
lg.append("rect").attr("x", 265.5).attr("y", 323.5).attr("width", 115).attr("height", 65)
  .attr("fill", "#fff").attr("stroke", "#000").attr("stroke-width", 1);
seriesNames.forEach((name, i) => {
  const cy = 335 + i * 21;
  lg.append("circle").attr("cx", 289).attr("cy", cy).attr("r", 1.2).attr("fill", seriesColors[i]);
  label(name, 309, cy + 5, 14, "start");
});
</script></body></html>
